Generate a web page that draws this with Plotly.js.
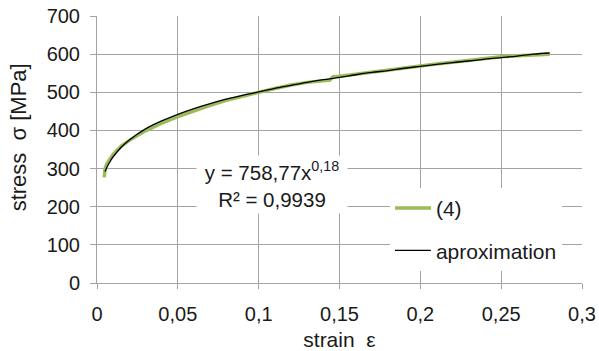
<!DOCTYPE html>
<html>
<head>
<meta charset="utf-8">
<script src="https://cdn.plot.ly/plotly-3.0.1.min.js"></script>
<style>
  html, body { margin: 0; padding: 0; background: #fff; }
  #chart { width: 599px; height: 351px; }
</style>
</head>
<body>
<div id="chart"></div>
<script>
// Measured series "(4)"
const strain4 = [0.0045, 0.005, 0.006, 0.008, 0.01, 0.015, 0.02, 0.03, 0.04, 0.05, 0.06, 0.07, 0.08, 0.09, 0.1, 0.11, 0.12, 0.13, 0.14, 0.144, 0.146, 0.15, 0.16, 0.17, 0.18, 0.19, 0.2, 0.21, 0.22, 0.23, 0.24, 0.25, 0.26, 0.27, 0.28];
const stress4 = [277, 300, 312, 326, 337, 359, 374, 399, 419, 436, 452, 466, 479, 490, 500, 510, 519, 526, 530, 532, 541, 542, 547, 553, 559, 564, 569, 574, 579, 584, 589, 593, 596, 598, 600];

// Approximation curve
const strainFit = [0.005, 0.006, 0.008, 0.01, 0.015, 0.02, 0.03, 0.04, 0.05, 0.06, 0.07, 0.08, 0.09, 0.1, 0.11, 0.12, 0.13, 0.14, 0.15, 0.16, 0.17, 0.18, 0.19, 0.2, 0.21, 0.22, 0.23, 0.24, 0.25, 0.26, 0.27, 0.28];
const stressFit = [292, 302, 318, 331, 356, 375, 404, 425, 442, 457, 470, 482, 492, 501, 510, 518, 526, 533, 539, 546, 552, 557, 563, 568, 573, 578, 582, 587, 591, 595, 600, 603];

// Tick labels
const xTickVals = [0, 0.05, 0.1, 0.15, 0.2, 0.25, 0.3];
const xTickText = ['0', '0,05', '0,1', '0,15', '0,2', '0,25', '0,3'];
const yTickVals = [0, 100, 200, 300, 400, 500, 600, 700];
const yTickText = ['0', '100', '200', '300', '400', '500', '600', '700'];

const seriesNames = ['(4)', 'aproximation'];
const xTitle = 'strain\u00a0\u00a0ε';
const yTitle = 'stress\u00a0\u00a0σ [MPa]';
const equationText = 'y = 758,77x<sup>0,18</sup><br>R² = 0,9939';

const FONT = 'Liberation Sans, Arial, sans-serif';
const FS = 20;
const TXT = '#1a1a1a';
const GRID = '#a3a3a3';

const traces = [
  {
    x: strain4, y: stress4, name: seriesNames[0], type: 'scatter', mode: 'lines',
    line: { color: '#9BBB59', width: 3.5 }, legendgroup: 'a'
  },
  {
    x: strainFit, y: stressFit, name: seriesNames[1], type: 'scatter', mode: 'lines',
    line: { color: '#000000', width: 1.3, shape: 'spline' }, legendgroup: 'b'
  }
];

const layout = {
  width: 599, height: 351,
  margin: { l: 97, r: 17, t: 16, b: 68 },
  paper_bgcolor: '#fff', plot_bgcolor: '#fff',
  font: { family: FONT, size: FS, color: TXT },
  showlegend: true,
  legend: {
    x: 0.604, y: 0.356, xanchor: 'left', yanchor: 'top',
    bgcolor: '#fff', borderwidth: 0,
    font: { family: FONT, size: 21, color: TXT },
    traceorder: 'grouped', tracegroupgap: 12,
    itemwidth: 36
  },
  xaxis: {
    range: [0, 0.3], tickvals: xTickVals, ticktext: xTickText,
    showgrid: true, gridcolor: GRID, gridwidth: 1,
    showline: true, linecolor: GRID, linewidth: 1,
    ticks: 'outside', ticklen: 5, tickcolor: GRID,
    ticklabelstandoff: 8,
    zeroline: false, mirror: false,
    tickfont: { family: FONT, size: FS, color: TXT },
    title: { text: xTitle, font: { family: FONT, size: 21, color: TXT }, standoff: 10 }
  },
  yaxis: {
    range: [0, 700], tickvals: yTickVals, ticktext: yTickText,
    showgrid: true, gridcolor: GRID, gridwidth: 1,
    showline: true, linecolor: GRID, linewidth: 1,
    ticks: 'outside', ticklen: 6, tickcolor: GRID,
    ticklabelstandoff: 6,
    zeroline: false,
    tickfont: { family: FONT, size: FS, color: TXT }
  },
  annotations: [
    {
      x: 0.1082, y: 257, xref: 'x', yref: 'y',
      text: equationText, showarrow: false,
      xanchor: 'center', yanchor: 'middle',
      bgcolor: '#fff', width: 148, height: 55,
      font: { family: FONT, size: 20.5, color: TXT }
    },
    {
      x: -0.16, y: 0.547, xref: 'paper', yref: 'paper',
      text: yTitle, showarrow: false, textangle: -90,
      xanchor: 'center', yanchor: 'middle',
      font: { family: FONT, size: 22, color: TXT }
    }
  ]
};

Plotly.newPlot('chart', traces, layout, { displayModeBar: false, staticPlot: true });
</script>
</body>
</html>
